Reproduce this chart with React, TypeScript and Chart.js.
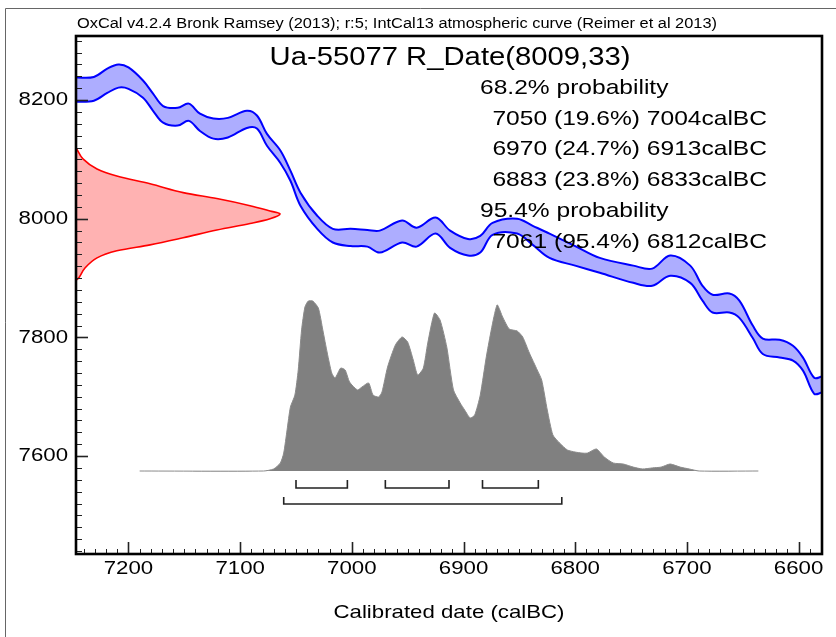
import React, { useEffect, useRef } from "react";
import { Chart, registerables } from "chart.js";

Chart.register(...registerables);

const W = 836;
const H = 637;

// IntCal13 calibration curve band (calBC vs BP)
const curveYears = [7247, 7231, 7219, 7209, 7200, 7187, 7178, 7169, 7156, 7146, 7136, 7124, 7111, 7094, 7085, 7076, 7064, 7055, 7046, 7031, 7017, 7001, 6986, 6975, 6955, 6942, 6925, 6912, 6896, 6885, 6874, 6852, 6838, 6823, 6800, 6778, 6748, 6731, 6715, 6697, 6686, 6677, 6662, 6653, 6641, 6632, 6617, 6605, 6596, 6586, 6579];
const curveUpper = [8238, 8239, 8253, 8260, 8255, 8233, 8211, 8190, 8187, 8194, 8177, 8169, 8170, 8182, 8174, 8143, 8115, 8081, 8044, 8005, 7983, 7983, 7981, 7980, 7997, 7985, 8002, 7980, 7966, 7971, 7993, 8000, 7988, 7975, 7954, 7934, 7921, 7916, 7938, 7921, 7887, 7872, 7874, 7862, 7820, 7798, 7796, 7786, 7766, 7732, 7734];
const curveLower = [8197, 8199, 8212, 8221, 8219, 8204, 8182, 8162, 8157, 8165, 8148, 8135, 8137, 8153, 8152, 8123, 8094, 8064, 8022, 7983, 7960, 7954, 7953, 7943, 7960, 7953, 7975, 7951, 7938, 7943, 7973, 7975, 7956, 7934, 7921, 7909, 7892, 7887, 7904, 7892, 7862, 7842, 7842, 7833, 7799, 7772, 7766, 7761, 7744, 7705, 7707];

// Radiocarbon date R_Date(8009,33): relative density vs BP
const dateBP = [8120, 8101, 8084, 8072, 8059, 8044, 8034, 8022, 8013, 8008, 8000, 7992, 7981, 7968, 7956, 7946, 7934, 7917, 7901, 7896];
const dateDensity = [0, 0.034, 0.103, 0.2, 0.363, 0.525, 0.69, 0.853, 0.951, 1, 0.951, 0.853, 0.69, 0.525, 0.363, 0.2, 0.103, 0.044, 0.015, 0];

// Calibrated date: relative probability vs calBC
const calYears = [7190, 7079, 7070, 7064, 7061, 7058, 7055, 7051, 7048, 7045, 7042, 7039, 7035, 7030, 7026, 7022, 7018, 7015, 7010, 7006, 7002, 6995, 6991, 6985, 6981, 6976, 6973, 6968, 6961, 6955, 6950, 6945, 6941, 6936, 6932, 6926, 6921, 6915, 6909, 6903, 6899, 6894, 6890, 6885, 6879, 6870, 6865, 6859, 6852, 6847, 6841, 6834, 6830, 6825, 6820, 6814, 6807, 6800, 6794, 6789, 6781, 6774, 6766, 6757, 6748, 6740, 6731, 6723, 6715, 6706, 6698, 6689, 6636];
const calProb = [0, 0, 0.012, 0.047, 0.105, 0.24, 0.374, 0.444, 0.591, 0.825, 0.959, 0.994, 0.994, 0.953, 0.825, 0.69, 0.573, 0.544, 0.602, 0.591, 0.52, 0.474, 0.491, 0.515, 0.444, 0.433, 0.462, 0.608, 0.737, 0.784, 0.754, 0.649, 0.561, 0.602, 0.749, 0.924, 0.883, 0.725, 0.474, 0.398, 0.357, 0.31, 0.327, 0.444, 0.69, 0.971, 0.901, 0.83, 0.819, 0.784, 0.69, 0.591, 0.532, 0.357, 0.211, 0.164, 0.123, 0.111, 0.105, 0.105, 0.129, 0.082, 0.047, 0.041, 0.023, 0.012, 0.018, 0.023, 0.041, 0.023, 0.012, 0, 0];

// Probability ranges
const range68From = [7050, 6970, 6883];
const range68To = [7004, 6913, 6833];
const range68Pct = ["19.6", "24.7", "23.8"];
const range95From = [7061];
const range95To = [6812];
const range95Pct = ["95.4"];

// Axis ticks
const xTickLabels = [7200, 7100, 7000, 6900, 6800, 6700, 6600];
const yTickLabels = [8200, 8000, 7800, 7600];
const xMinorStep = 10;
const yMinorStep = 20;

const headerText = "OxCal v4.2.4 Bronk Ramsey (2013); r:5; IntCal13 atmospheric curve (Reimer et al 2013)";
const titleText = "Ua-55077 R_Date(8009,33)";
const xTitle = "Calibrated date (calBC)";

const FONT = '"Liberation Sans", Arial, sans-serif';
const SX = 1.17;

function drawText(
  ctx: CanvasRenderingContext2D,
  s: string,
  x: number,
  y: number,
  size: number,
  align: "left" | "right" | "center",
  sx: number = SX,
  targetWidth?: number
) {
  ctx.save();
  ctx.font = `${size}px ${FONT}`;
  ctx.textBaseline = "middle";
  ctx.textAlign = "left";
  const mw = ctx.measureText(s).width;
  const scale = targetWidth ? targetWidth / mw : sx;
  const w = mw * scale;
  const left = align === "left" ? x : align === "right" ? x - w : x - w / 2;
  ctx.translate(left, y);
  ctx.scale(scale, 1);
  ctx.fillStyle = "#000";
  ctx.fillText(s, 0, 0);
  ctx.restore();
}

const decorPlugin = {
  id: "oxcalDecor",
  afterDatasetsDraw(chart: any) {
    const ctx: CanvasRenderingContext2D = chart.ctx;
    const { left, right, top, bottom } = chart.chartArea;
    const xs = chart.scales.x;
    const ys = chart.scales.y;
    const yp = chart.scales.yp;

    ctx.save();
    // outer frame
    ctx.strokeStyle = "#666";
    ctx.lineWidth = 1;
    ctx.beginPath();
    ctx.moveTo(5.5, H);
    ctx.lineTo(5.5, 8.5);
    ctx.lineTo(W, 8.5);
    ctx.stroke();

    // brackets for ranges
    const base = yp.getPixelForValue(0);
    ctx.strokeStyle = "#222";
    ctx.lineWidth = 1.6;
    const bracket = (a: number, b: number, y0: number, y1: number) => {
      const xa = xs.getPixelForValue(a);
      const xb = xs.getPixelForValue(b);
      ctx.beginPath();
      ctx.moveTo(xa, y0);
      ctx.lineTo(xa, y1);
      ctx.lineTo(xb, y1);
      ctx.lineTo(xb, y0);
      ctx.stroke();
    };
    range68From.forEach((a, i) => bracket(a, range68To[i], base + 9, base + 17));
    range95From.forEach((a, i) => bracket(a, range95To[i], base + 26, base + 33));

    // inward ticks
    ctx.strokeStyle = "#222";
    const xmin = Math.min(xs.min, xs.max);
    const xmax = Math.max(xs.min, xs.max);
    for (let v = Math.ceil(xmin / xMinorStep) * xMinorStep; v <= xmax; v += xMinorStep) {
      const major = v % 100 === 0;
      const px = Math.round(xs.getPixelForValue(v)) + 0.5;
      ctx.lineWidth = major ? 1.6 : 1;
      ctx.beginPath();
      ctx.moveTo(px, bottom);
      ctx.lineTo(px, bottom - (major ? 12 : 5));
      ctx.stroke();
    }
    for (let v = Math.ceil(ys.min / yMinorStep) * yMinorStep; v <= ys.max; v += yMinorStep) {
      const major = v % 200 === 0;
      const py = Math.round(ys.getPixelForValue(v)) + 0.5;
      ctx.lineWidth = major ? 1.6 : 1;
      ctx.beginPath();
      ctx.moveTo(left, py);
      ctx.lineTo(left + (major ? 12 : 6), py);
      ctx.stroke();
    }

    // plot frame
    ctx.strokeStyle = "#000";
    ctx.lineWidth = 2.6;
    ctx.strokeRect(left, top, right - left, bottom - top);

    // tick labels
    xTickLabels.forEach((v) => drawText(ctx, String(v), xs.getPixelForValue(v), bottom + 15, 19, "center"));
    yTickLabels.forEach((v) => drawText(ctx, String(v), left - 8, ys.getPixelForValue(v), 19, "right"));

    // axis title
    drawText(ctx, xTitle, (left + right) / 2, 613, 19, "center");

    // header & title
    drawText(ctx, headerText, left + 1, 24, 14, "left", 1, 640);
    drawText(ctx, titleText, 450, 58, 25, "center");

    // probability text
    const lx = 480;
    const rx = 767;
    let y = 88;
    drawText(ctx, "68.2% probability", lx, y, 21, "left");
    range68From.forEach((a, i) => {
      y += 30.8;
      drawText(ctx, `${a} (${range68Pct[i]}%) ${range68To[i]}calBC`, rx, y, 21, "right");
    });
    y += 30.8;
    drawText(ctx, "95.4% probability", lx, y, 21, "left");
    range95From.forEach((a, i) => {
      y += 30.8;
      drawText(ctx, `${a} (${range95Pct[i]}%) ${range95To[i]}calBC`, rx, y, 21, "right");
    });
    ctx.restore();
  },
};

export default function App() {
  const ref = useRef<HTMLCanvasElement | null>(null);
  useEffect(() => {
    if (!ref.current) return;
    const chart = new Chart(ref.current, {
      type: "line",
      data: {
        datasets: [
          {
            label: "IntCal13 upper",
            data: curveYears.map((x, i) => ({ x, y: curveUpper[i] })),
            xAxisID: "x",
            yAxisID: "y",
            borderColor: "#0000ff",
            borderWidth: 2,
            backgroundColor: "rgba(0,0,255,0.32)",
            fill: "+1",
            pointRadius: 0,
            tension: 0.35,
          },
          {
            label: "IntCal13 lower",
            data: curveYears.map((x, i) => ({ x, y: curveLower[i] })),
            xAxisID: "x",
            yAxisID: "y",
            borderColor: "#0000ff",
            borderWidth: 2,
            fill: false,
            pointRadius: 0,
            tension: 0.35,
          },
          {
            label: "R_Date",
            data: dateBP.map((y, i) => ({ x: dateDensity[i], y })),
            xAxisID: "xd",
            yAxisID: "y",
            borderColor: "#ff0000",
            borderWidth: 1.6,
            backgroundColor: "rgba(255,0,0,0.3)",
            fill: "shape",
            pointRadius: 0,
            tension: 0.35,
          },
          {
            label: "Calibrated",
            data: calYears.map((x, i) => ({ x, y: calProb[i] })),
            xAxisID: "x",
            yAxisID: "yp",
            borderColor: "#8a8a8a",
            borderWidth: 1,
            backgroundColor: "#808080",
            fill: "origin",
            pointRadius: 0,
            tension: 0.2,
          },
        ] as any,
      },
      options: {
        animation: false,
        responsive: false,
        devicePixelRatio: 1,
        layout: { padding: { left: 76, top: 36, right: 14, bottom: 83 } },
        plugins: { legend: { display: false }, tooltip: { enabled: false } },
        scales: {
          x: { type: "linear", display: false, min: 6579, max: 7247, reverse: true },
          y: { type: "linear", display: false, min: 7435, max: 8308 },
          xd: { type: "linear", display: false, min: 0, max: 3.656 },
          yp: { type: "linear", display: false, min: -0.4853, max: 2.544 },
        },
      } as any,
      plugins: [decorPlugin],
    });
    return () => chart.destroy();
  }, []);
  return (
    <div style={{ position: "absolute", left: 0, top: 0, width: W, height: H, background: "#fff" }}>
      <canvas ref={ref} width={W} height={H} style={{ width: W, height: H, display: "block" }} />
    </div>
  );
}
